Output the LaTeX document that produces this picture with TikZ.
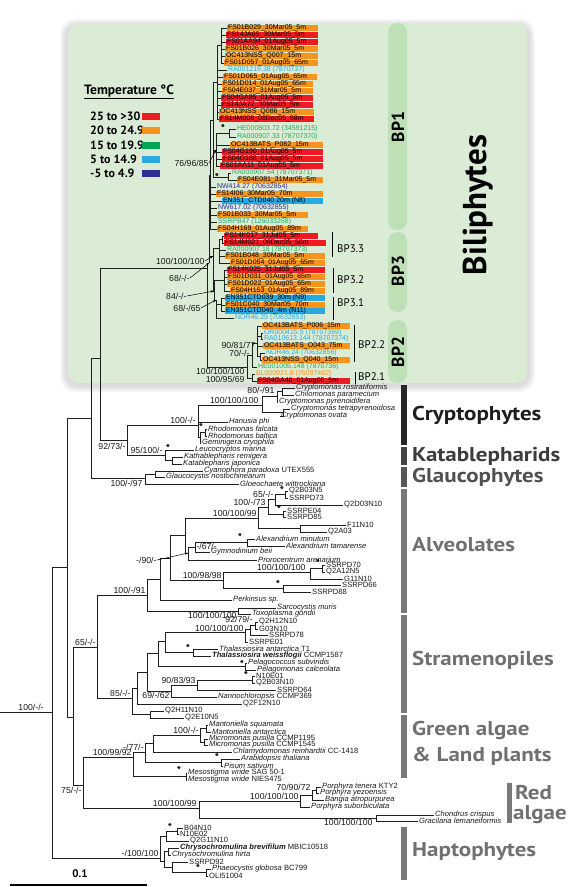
\documentclass[tikz,border=0pt]{standalone}
\usepackage{fontspec}
\setmainfont{PT Sans}
\newfontfamily\lib{Liberation Sans}
\usetikzlibrary{arrows.meta}
\definecolor{cR}{RGB}{237,28,36}
\definecolor{cO}{RGB}{247,148,29}
\definecolor{cG}{RGB}{0,166,81}
\definecolor{cGt}{RGB}{40,170,90}
\definecolor{cLB}{RGB}{39,170,225}
\definecolor{cDB}{RGB}{46,49,146}
\definecolor{bgG}{RGB}{218,236,214}
\definecolor{bandG}{RGB}{190,224,183}
\definecolor{k1}{RGB}{38,38,38}
\definecolor{k2}{RGB}{68,68,68}
\definecolor{k3}{RGB}{88,88,88}
\definecolor{k4}{RGB}{120,120,120}
\definecolor{t1}{RGB}{30,30,30}
\definecolor{t2}{RGB}{60,60,60}
\definecolor{t3}{RGB}{80,80,80}
\definecolor{t4}{RGB}{112,112,112}
\tikzset{
 br/.style={line width=0.8pt, draw=black!88},
 lf/.style={font=\lib\fontsize{7}{8}\selectfont, anchor=west, inner xsep=0.8pt, inner ysep=0.3pt},
 sp/.style={font=\lib\fontsize{7.6}{8}\selectfont, anchor=west, inner xsep=1pt, inner ysep=0.3pt, text=black!90},
 sv/.style={font=\lib\fontsize{8.7}{9}\selectfont, inner sep=0.3pt, text=black!90},
 st/.style={font=\bfseries\fontsize{11}{11}\selectfont, inner sep=0pt},
 ar/.style={line width=0.5pt, -{Stealth[length=3.2pt,width=2.4pt]}},
 clab/.style={font=\bfseries\fontsize{20}{22}\selectfont, anchor=west, inner sep=0pt},
 bpl/.style={font=\bfseries\fontsize{17.5}{17.5}\selectfont, rotate=90, inner sep=0pt},
 bpb/.style={font=\fontsize{11}{11}\selectfont, anchor=west, inner sep=0pt},
 leg/.style={font=\bfseries\fontsize{12}{12}\selectfont, anchor=west, inner sep=0pt},
}
\newcommand\cl[1]{\scalebox{1.15}[1]{#1}}
\newcommand\Bx[6]{\fill[#5] (#3,#2-3.4) rectangle (#4,#2+3.4); \node[lf] (#1) at (#3,#2) {#6};}
\newcommand\Tx[5]{\node[lf,text=#4] (#1) at (#3,#2) {#5};}
\newcommand\Lf[4]{\node[sp] (#1) at (#3,#2) {#4};}
\newcommand\chL[3]{\foreach \i in {#2,...,#3}{\draw[br] (#1) |- (L\i.west);}}
\newcommand\ch[2]{\foreach \cc in {#2}{\draw[br] (#1) |- (\cc);}}
\begin{document}
\begin{tikzpicture}[x=1pt,y=-1pt]
\useasboundingbox (0,0) rectangle (568,887);
% ---------- biliphyte panel ----------
\foreach \i in {1,...,6}{\fill[black,opacity=0.025,rounded corners=14pt] ({66-\i},{25-\i}) rectangle ({529+\i},{386+\i});}
\fill[bgG, rounded corners=12pt] (68,23) rectangle (527,383);
\fill[bandG, rounded corners=9pt] (388,23) rectangle (407,230);
\fill[bandG, rounded corners=9pt] (388,232) rectangle (407,312);
\fill[bandG, rounded corners=9pt] (388,320) rectangle (407,383);
\node[bpl] (bp1) at (398,127) {BP1};
\node[bpl] (bp3) at (398,271) {BP3};
\node[bpl] (bp2) at (398,352) {BP2};
\node[font=\bfseries\fontsize{33}{33}\selectfont, rotate=90, inner sep=0pt] (bili) at (478,205) {Biliphytes};
% legend
\node[font=\bfseries\fontsize{13.5}{13.5}\selectfont, anchor=west, inner sep=0pt] (legT) at (84,92) {\underline{Temperature °C}};
\node[leg] (lg1) at (90,116) {25 to >30}; \fill[cR] (142,112.5) rectangle (160,119.5);
\node[leg] (lg2) at (90,130) {20 to 24.9}; \fill[cO] (142,126.5) rectangle (160,133.5);
\node[leg] (lg3) at (90,145) {15 to 19.9}; \fill[cG] (142,141.5) rectangle (160,148.5);
\node[leg] (lg4) at (90,159) {5 to 14.9}; \fill[cLB] (142,155.5) rectangle (160,162.5);
\node[leg] (lg5) at (90,173) {-5 to 4.9}; \fill[cDB] (142,169.5) rectangle (160,176.5);
% leaves
\Bx{L1}{28}{227}{318}{cO}{FS01B029\_30Mar05\_5m}
\Bx{L2}{35}{226}{318}{cR}{FS14JA65\_30Mar05\_5m}
\Bx{L3}{42}{226}{318}{cR}{FS01AA94\_01Aug05\_5m}
\Bx{L4}{49}{225}{318}{cO}{FS01B026\_30Mar05\_5m}
\Bx{L5}{56}{225}{318}{cO}{OC413NSS\_Q007\_15m}
\Bx{L6}{63}{224}{318}{cO}{FS01D057\_01Aug05\_65m}
\Tx{L7}{70}{227}{cLB}{RA001219.38 (7870737)}
\Bx{L8}{77}{223}{317}{cO}{FS01D065\_01Aug05\_65m}
\Bx{L9}{84}{222}{313}{cO}{FS01D014\_01Aug05\_65m}
\Bx{L10}{91}{222}{313}{cO}{FS04E037\_31Mar05\_5m}
\Bx{L11}{98}{221}{313}{cR}{FS04GA95\_01Aug05\_5m}
\Bx{L12}{105}{221}{313}{cR}{FS14JA72\_30Mar05\_5m}
\Bx{L13}{112}{219}{314}{cO}{OC413NSS\_Q086\_15m}
\Bx{L14}{119}{219}{314}{cR}{FS14M008\_08Dec05\_58m}
\Tx{L15}{129}{236}{cGt}{HE000803.72 (34591215)}
\Tx{L16}{137}{236}{cGt}{RA000907.33 (78707370)}
\Bx{L17}{145}{230}{323}{cO}{OC413BATS\_P082\_15m}
\Bx{L18}{152}{222}{323}{cR}{FS04G190\_01Aug05\_5m}
\Bx{L19}{159}{222}{323}{cR}{FS04G188\_01Aug05\_5m}
\Bx{L20}{166}{220}{323}{cR}{FS01AA11\_01Aug05\_5m}
\Tx{L21}{173}{231}{cGt}{RA000907.54 (78707371)}
\Bx{L22}{180}{237}{323}{cO}{FS04E081\_31Mar05\_5m}
\Tx{L23}{187}{216}{cDB}{NW414.27 (70632854)}
\Bx{L24}{194}{216}{323}{cO}{FS14I06\_30Mar05\_70m}
\Bx{L25}{201}{222}{323}{cLB}{EN351\_CTD040 20m (N8)}
\Tx{L26}{208}{217}{cDB}{NW617.02 (70632855)}
\Bx{L27}{215}{217}{308}{cO}{FS01B033\_30Mar05\_5m}
\Tx{L28}{222}{217}{cGt}{SSRPB47 (126033268)}
\Bx{L29}{229}{217}{308}{cO}{FS04H169\_01Aug05\_89m}
\Bx{L30}{236}{224}{318}{cR}{FS14K017\_31Jul05\_5m}
\Bx{L31}{243}{224}{326}{cR}{FS14M021\_08Dec05\_58m}
\Tx{L32}{250}{226}{cGt}{RA000907.18 (78707373)}
\Bx{L33}{256}{225}{325}{cO}{FS01B048\_30Mar05\_5m}
\Bx{L34}{263}{230}{325}{cO}{FS01D054\_01Aug05\_65m}
\Bx{L35}{270}{227}{325}{cR}{FS14K025\_31Jul05\_5m}
\Bx{L36}{277}{227}{325}{cO}{FS01D031\_01Aug05\_65m}
\Bx{L37}{284}{227}{325}{cO}{FS01D022\_01Aug05\_65m}
\Bx{L38}{291}{230}{325}{cO}{FS04H153\_01Aug05\_89m}
\Bx{L39}{298}{225}{325}{cLB}{EN351CTD039\_30m (N9)}
\Bx{L40}{305}{225}{325}{cO}{FS01C040\_30Mar05\_70m}
\Bx{L41}{311}{225}{325}{cLB}{EN351CTD040\_4m (N11)}
\Tx{L42}{318}{234}{cLB}{NOR46.29 (70632853)}
\Bx{L43}{326}{262}{350}{cO}{OC413BATS\_P006\_15m}
\Tx{L44}{333}{263}{cLB}{OR000415.9 (78707369)}
\Tx{L45}{339}{263}{cLB}{RA010613.144 (78707374)}
\Bx{L46}{346}{263}{350}{cO}{OC413BATS\_O043\_75m}
\Tx{L47}{353}{265}{cLB}{NOR46.24 (70632856)}
\Bx{L48}{360}{262}{350}{cO}{OC413NSS\_Q040\_15m}
\Tx{L49}{367}{257}{cGt}{HE001005.148 (7870736)}
\Tx{L50}{374}{255}{cO}{BL000921.8 (76097482)}
\Bx{L51}{381}{257}{350}{cR}{FS04GA46\_01Aug05\_5m}
% BP subclade brackets
\draw[line width=1pt] (332,232) coordinate (b33a) -- (332,257) coordinate (b33b);
\node[bpb] (t33) at (337,249) {BP3.3};
\draw[line width=1pt] (333,268) coordinate (b32a) -- (333,293) coordinate (b32b);
\node[bpb] (t32) at (337,280) {BP3.2};
\draw[line width=1pt] (333,297) coordinate (b31a) -- (333,320) coordinate (b31b);
\node[bpb] (t31) at (337,303) {BP3.1};
\draw[line width=1pt] (354,325) coordinate (b22a) -- (354,362) coordinate (b22b);
\node[bpb] (t22) at (358,345) {BP2.2};
\draw[line width=1pt] (355,372) coordinate (b21a) -- (355,384) coordinate (b21b);
\node[bpb] (t21) at (358,377) {BP2.1};
% biliphyte internal nodes
\coordinate (nA) at (221,45);
\coordinate (n1) at (217,82);
\coordinate (P15) at (229,133);
\coordinate (n2) at (216,150);
\coordinate (P21) at (228,177);
\coordinate (n3) at (213,120);
\coordinate (n4) at (210,175);
\coordinate (P30) at (222,239);
\coordinate (n33) at (219,248);
\coordinate (n32) at (224,280);
\coordinate (n31) at (221,304);
\coordinate (n3c) at (216,300);
\coordinate (n3b) at (214,291);
\coordinate (nBP3) at (213,256);
\coordinate (nBP13) at (209,263);
\coordinate (p44) at (261,336);
\coordinate (p47) at (260,356);
\coordinate (nBP22) at (257,343);
\coordinate (nBP2x) at (252,355);
\coordinate (p50) at (252,378);
\coordinate (nBP2) at (247,367);
\coordinate (B0) at (207,268);
\chL{nA}{1}{6}
\ch{n1}{nA} \chL{n1}{7}{14}
\chL{P15}{15}{16}
\ch{n2}{P15} \chL{n2}{17}{20}
\chL{P21}{21}{22}
\ch{n3}{n1,n2,P21}
\ch{n4}{n3} \chL{n4}{23}{29}
\chL{P30}{30}{31}
\ch{n33}{P30} \chL{n33}{32}{34}
\chL{n32}{35}{38}
\chL{n31}{39}{41}
\ch{n3c}{n31,L42.west}
\ch{n3b}{n32,n3c}
\ch{nBP3}{n33,n3b}
\ch{nBP13}{n4,nBP3}
\chL{p44}{44}{45}
\chL{p47}{47}{48}
\ch{nBP22}{L43.west,p44,L46.west,p47}
\ch{nBP2x}{nBP22,L49.west}
\chL{p50}{50}{51}
\ch{nBP2}{nBP2x,p50}
\ch{B0}{nBP13,nBP2}
\node[st] (a15) at (223,128) {*};
\node[st] (a21) at (217,177) {*};
\node[sv,anchor=east] (s76) at (209,163) {76/96/85};
\draw[ar] (s76.east) -- (n2);
\node[sv,anchor=east] (s100b) at (205,261) {100/100/100};
\draw[ar] (s100b.east) -- (nBP3);
\node[sv,anchor=east] (s68a) at (190,278) {68/-/-};
\draw[ar] (s68a.east) -- (nBP13);
\node[sv,anchor=east] (s84) at (187,296) {84/-/-};
\draw[ar] (s84.east) -- (n3b);
\node[sv,anchor=east] (s68b) at (201,308) {68/-/65};
\draw[ar] (s68b.east) -- (n3c);
\node[sv,anchor=east] (s90) at (256,345) {90/81/77};
\node[sv,anchor=east] (s70) at (250,353) {70/-/-};
\node[sv,anchor=east] (s100c) at (245,371) {100/100/100};
\node[sv,anchor=east] (s95) at (245,379) {100/95/69};
% ---------- cryptophytes, katablepharids, glaucophytes ----------
\Lf{c1}{388}{295}{\itshape Cryptomonas rostratiformis}
\Lf{c2}{395}{294}{\itshape Chilomonas paramecium}
\Lf{c3}{402}{278}{\itshape Cryptomonas pyrenoidifera}
\Lf{c4}{409}{290}{\itshape Cryptomonas tetrapyrenoidosa}
\Lf{c5}{416}{280}{\itshape Cryptomonas ovata}
\Lf{c6}{422}{228}{\itshape Hanusia phi}
\Lf{c7}{429}{207}{\itshape Rhodomonas falcata}
\Lf{c8}{436}{207}{\itshape Rhodomonas baltica}
\Lf{c9}{443}{201}{\itshape Geminigera cryophila}
\Lf{c10}{450}{194}{\itshape Leucocryptos marina}
\Lf{c11}{457}{183}{\itshape Kathablepharis remigera}
\Lf{c12}{464}{182}{\itshape Katablepharis japonica}
\Lf{c13}{471}{203}{{\itshape Cyanophora paradoxa} UTEX555}
\Lf{c14}{477}{165}{\itshape Glaucocystis nostochinearum}
\Lf{c15}{484}{239}{\itshape Gloeochaete wittrockiana}
\coordinate (k1) at (282,391);
\coordinate (k2) at (277,396);
\coordinate (k3) at (283,412);
\coordinate (k4) at (262,405);
\coordinate (k6r) at (205,432);
\coordinate (k6) at (200,437);
\coordinate (k5) at (198,425);
\coordinate (k8) at (172,460);
\coordinate (k9) at (165,455);
\coordinate (k7) at (127,440);
\coordinate (g1) at (155,474);
\coordinate (g0) at (145,478);
\coordinate (a3) at (100,358);
\coordinate (a2) at (91,418);
\ch{k1}{c1.west,c2.west}
\ch{k2}{k1,c3.west}
\ch{k3}{c4.west,c5.west}
\ch{k4}{k2,k3}
\ch{k6r}{c7.west,c8.west}
\ch{k6}{k6r,c9.west}
\ch{k5}{k4,c6.west,k6}
\ch{k8}{c11.west,c12.west}
\ch{k9}{c10.west,k8}
\ch{k7}{k5,k9}
\ch{g1}{c13.west,c14.west}
\ch{g0}{g1,c15.west}
\ch{a3}{B0,k7}
\ch{a2}{a3,g0}
\node[sv,anchor=south east] (s80) at (275,394.5) {80/-/91};
\node[sv,anchor=south east] (s100d) at (259,404) {100/100/100};
\node[sv,anchor=south east] (s100e) at (196,424) {100/-/-};
\node[sv,anchor=south east] (s95b) at (163,454) {95/100/-};
\node[sv,anchor=north east] (s92) at (126,443) {92/73/-};
\node[sv,anchor=north east] (s100f) at (143,480) {100/-/97};
\node[st] (a7) at (201,427) {*};
\node[st] (a10) at (168,448) {*};
% ---------- alveolates ----------
\Lf{v1}{491}{288}{Q2B03N5}
\Lf{v2}{498}{288}{SSRPD73}
\Lf{v3}{505}{343}{Q2D03N10}
\Lf{v4}{511}{286}{SSRPE04}
\Lf{v5}{517}{286}{SSRPD85}
\Lf{v6}{525}{346}{F11N10}
\Lf{v7}{532}{327}{Q2A03}
\Lf{v8}{539}{255}{\itshape Alexandrium minutum}
\Lf{v9}{546}{285}{\itshape Alexandrium tamarense}
\Lf{v10}{552}{210}{\itshape Gymnodinium beii}
\Lf{v11}{560}{257}{\itshape Prorocentrum arenarium}
\Lf{v12}{565}{325}{SSRPD70}
\Lf{v13}{572}{325}{Q2A12N5}
\Lf{v14}{579}{343}{G11N10}
\Lf{v15}{585}{341}{SSRPD66}
\Lf{v16}{592}{311}{SSRPD88}
\Lf{v17}{600}{232}{\itshape Perkinsus sp.}
\Lf{v18}{608}{276}{\itshape Sarcocystis muris}
\Lf{v19}{614}{251}{\itshape Toxoplasma gondii}
\coordinate (Na) at (285,494);
\coordinate (Nb) at (275,499);
\coordinate (Nc) at (283,514);
\coordinate (Nd) at (268,507);
\coordinate (Nf) at (300,528);
\coordinate (Ne) at (258,518);
\coordinate (Nal) at (247,542);
\coordinate (Ng) at (195,547);
\coordinate (Nh2) at (188,553);
\coordinate (Nh) at (185,535);
\coordinate (Nk2) at (322,568);
\coordinate (Nk) at (310,572);
\coordinate (Nl) at (283,588);
\coordinate (Nj) at (223,580);
\coordinate (Ni) at (170,558);
\coordinate (Nm) at (160,579);
\coordinate (No) at (238,611);
\coordinate (Nn) at (147,595);
\ch{Na}{v1.west,v2.west}
\ch{Nb}{Na,v3.west}
\ch{Nc}{v4.west,v5.west}
\ch{Nd}{Nb,Nc}
\ch{Nf}{v6.west,v7.west}
\ch{Ne}{Nd,Nf}
\ch{Nal}{v8.west,v9.west}
\ch{Ng}{Nal,v10.west}
\ch{Nh2}{Ng,v11.west}
\ch{Nh}{Ne,Nh2}
\ch{Nk2}{v12.west,v13.west}
\ch{Nk}{Nk2,v14.west}
\ch{Nl}{v15.west,v16.west}
\ch{Nj}{Nk,Nl}
\ch{Ni}{Nh,Nj}
\ch{Nm}{Ni,v17.west}
\ch{No}{v18.west,v19.west}
\ch{Nn}{Nm,No}
\node[sv,anchor=south east] (s65a) at (274,498) {65/-/-};
\node[sv,anchor=south east] (s100g) at (266,506) {100/-/73};
\node[sv,anchor=south east] (s100h) at (257,517) {100/100/99};
\node[sv,anchor=north west] (s67) at (196,543) {-/67/-};
\node[sv,anchor=east] (s90b) at (157,560) {-/90/-};
\draw[ar] (s90b.east) -- (Nh2);
\node[sv,anchor=south east] (s100i) at (306,571) {100/100/100};
\node[sv,anchor=south east] (s100j) at (222,579) {100/98/98};
\node[sv,anchor=south east] (s100k) at (146,594) {100/-/91};
\node[sv,anchor=north east] (s100l) at (237,612) {100/100/100};
\node[st] (a1s) at (282,490) {*};
\node[st] (a4s) at (279,509) {*};
\node[st] (a8s) at (240,537) {*};
\node[st] (a12s) at (318,563) {*};
\node[st] (a15s) at (278,584) {*};
% ---------- stramenopiles ----------
\Lf{s1}{622}{258}{Q2H12N10}
\Lf{s2}{629}{258}{G03N10}
\Lf{s3}{635}{268}{SSRPD78}
\Lf{s4}{642}{248}{SSRPE01}
\Lf{s5}{649}{218}{{\itshape Thalassiosira antarctica} T1}
\Lf{s6}{656}{211}{{\bfseries\itshape Thalassiosira weissflogii} CCMP1587}
\Lf{s7}{663}{247}{\itshape Pelagococcus subviridis}
\Lf{s8}{670}{256}{\itshape Pelagomonas calceolata}
\Lf{s9}{676}{255}{N10E01}
\Lf{s10}{683}{255}{Q2B03N10}
\Lf{s11}{690}{276}{SSRPD64}
\Lf{s12}{697}{217}{{\itshape Nannochloropsis} CCMP369}
\Lf{s13}{704}{242}{Q2F12N10}
\Lf{s14}{711}{164}{Q2H11N10}
\Lf{s15}{718}{184}{Q2E10N5}
\coordinate (S1a) at (255,625);
\coordinate (S1) at (250,629);
\coordinate (S2) at (245,632);
\coordinate (S3t) at (193,652);
\coordinate (S3) at (165,641);
\coordinate (S4p) at (245,666);
\coordinate (S4) at (158,653);
\coordinate (S5p) at (252,680);
\coordinate (S5) at (197,685);
\coordinate (S6) at (171,691);
\coordinate (S7) at (147,672);
\coordinate (S8) at (137,688);
\coordinate (S9p) at (150,714);
\coordinate (S85) at (132,698);
\coordinate (sa) at (97,647);
\ch{S1a}{s1.west,s2.west}
\ch{S1}{S1a,s3.west}
\ch{S2}{S1,s4.west}
\ch{S3t}{s5.west,s6.west}
\ch{S3}{S2,S3t}
\ch{S4p}{s7.west,s8.west}
\ch{S4}{S3,S4p}
\ch{S5p}{s9.west,s10.west}
\ch{S5}{S5p,s11.west}
\ch{S6}{S5,s12.west}
\ch{S7}{S4,S6}
\ch{S8}{S7,s13.west}
\ch{S9p}{s14.west,s15.west}
\ch{S85}{S8,S9p}
\ch{sa}{Nn,S85}
\node[sv,anchor=south east] (s92b) at (253,623) {92/79/-};
\node[sv,anchor=south east] (s100m) at (244,632) {100/100/100};
\node[sv,anchor=south east] (s90c) at (196,684) {90/83/93};
\node[sv,anchor=north east] (s69) at (170,692) {69/-/62};
\node[sv,anchor=south east] (s85) at (131,697) {85/-/-};
\node[sv,anchor=south east] (s65b) at (96,646) {65/-/-};
\node[st] (a5s) at (188,648) {*};
\node[st] (a7s) at (242,664) {*};
\node[st] (a9s) at (246,675) {*};
% ---------- green algae & land plants ----------
\Lf{e1}{725}{208}{\itshape Mantoniella squamata}
\Lf{e2}{732}{211}{\itshape Mantoniella antarctica}
\Lf{e3}{739}{208}{\itshape Micromonas pusilla \upshape CCMP1195}
\Lf{e4}{745}{208}{\itshape Micromonas pusilla \upshape CCMP1545}
\Lf{e5}{752}{232}{{\itshape Chlamydomonas reinhardtii} CC-1418}
\Lf{e6}{759}{240}{\itshape Arabidopsis thaliana}
\Lf{e7}{766}{223}{\itshape Pisum sativum}
\Lf{e8}{773}{187}{{\itshape Mesostigma viride} SAG 50-1}
\Lf{e9}{780}{187}{{\itshape Mesostigma viride} NIES475}
\coordinate (G1a) at (206,728);
\coordinate (G1b) at (204,742);
\coordinate (G1) at (200,735);
\coordinate (G2) at (153,743);
\coordinate (G3p) at (221,762);
\coordinate (G3) at (145,752);
\coordinate (G4m) at (186,776);
\coordinate (G4) at (133,757);
\ch{G1a}{e1.west,e2.west}
\ch{G1b}{e3.west,e4.west}
\ch{G1}{G1a,G1b}
\ch{G2}{G1,e5.west}
\ch{G3p}{e6.west,e7.west}
\ch{G3}{G2,G3p}
\ch{G4m}{e8.west,e9.west}
\ch{G4}{G3,G4m}
\node[sv,anchor=south east] (s100n) at (199,734) {100/-/-};
\node[sv,anchor=south east] (s77) at (144,751) {-/77/-};
\node[sv,anchor=south east] (s100o) at (132,756) {100/99/92};
\node[st] (a6e) at (217,757) {*};
\node[st] (a8e) at (179,770) {*};
% ---------- red algae ----------
\Lf{r1}{787}{321}{{\itshape Porphyra tenera} KTY2}
\Lf{r2}{793}{319}{\itshape Porphyra yezoensis}
\Lf{r3}{800}{324}{\itshape Bangia atropurpurea}
\Lf{r4}{807}{310}{\itshape Porphyra suborbiculata}
\Lf{r5}{815}{434}{\itshape Chondrus crispus}
\Lf{r6}{821}{418}{\itshape Gracilaria lemaneiformis}
\coordinate (R1a) at (316,790);
\coordinate (R1) at (312,795);
\coordinate (R2) at (300,801);
\coordinate (R3) at (376,818);
\coordinate (R0) at (199,808);
\ch{R1a}{r1.west,r2.west}
\ch{R1}{R1a,r3.west}
\ch{R2}{R1,r4.west}
\ch{R3}{r5.west,r6.west}
\ch{R0}{R2,R3}
\node[sv,anchor=south east] (s70b) at (311,791.5) {70/90/72};
\node[sv,anchor=south east] (s100p) at (299,800.5) {100/100/100};
\node[sv,anchor=south east] (s100q) at (197,807) {100/100/99};
\node[sv,anchor=north east] (s100r) at (373,819) {100/100/100};
\coordinate (sg) at (83,785);
\coordinate (s0) at (73,717);
\coordinate (a1) at (67,567);
\ch{sg}{G4,R0}
\ch{s0}{sa,sg}
\ch{a1}{a2,s0}
\node[sv,anchor=north east] (s75) at (82,787) {75/-/-};
% ---------- haptophytes ----------
\Lf{h1}{828}{183}{B04N10}
\Lf{h2}{834}{179}{N10E02}
\Lf{h3}{841}{189}{Q2G11N10}
\Lf{h4}{848}{179}{{\bfseries\itshape Chrysochromulina brevifilum} MBIC10518}
\Lf{h5}{855}{171}{\itshape Chrysochromulina hirta}
\Lf{h6}{862}{188}{SSRPD92}
\Lf{h7}{869}{211}{{\itshape Phaeocystis globosa} BC799}
\Lf{h8}{876}{208}{OLI51004}
\coordinate (H1p) at (177,831);
\coordinate (H1) at (166,836);
\coordinate (H3) at (168,851);
\coordinate (H7) at (206,872);
\coordinate (H5) at (172,867);
\coordinate (H4) at (164,861);
\coordinate (H0) at (160,858);
\ch{H1p}{h1.west,h2.west}
\ch{H1}{H1p,h3.west}
\ch{H3}{h4.west,h5.west}
\ch{H7}{h7.west,h8.west}
\ch{H5}{h6.west,H7}
\ch{H4}{H3,H5}
\ch{H0}{H1,H4}
\node[sv,anchor=south east] (s100s) at (159,857) {-/100/100};
\node[st] (a1h) at (170,827) {*};
\node[st] (a7h) at (198,868) {*};
% root
\coordinate (root) at (52,712);
\coordinate (rootL) at (0,712);
\ch{root}{a1,H0}
\draw[br] (rootL) -- (root);
\node[sv,anchor=south] (s100t) at (31,711) {100/-/-};
% ---------- clade bars ----------
\fill[k1] (401,385) rectangle (407,445);
\node[clab,text=t1] (cry) at (412,415) {\cl{Cryptophytes}};
\fill[k2] (401,447) rectangle (407,465);
\node[clab,text=t2] (kat) at (412,456) {\cl{Katablepharids}};
\fill[k3] (401,467) rectangle (407,487);
\node[clab,text=t3] (gla) at (412,477) {\cl{Glaucophytes}};
\fill[k4] (401,489) rectangle (407,613);
\node[clab,text=t4] (alv) at (412,545) {\cl{Alveolates}};
\fill[k4] (401,615) rectangle (407,713);
\node[clab,text=t4] (stra) at (412,660) {\cl{Stramenopiles}};
\fill[k4] (401,715) rectangle (407,778);
\node[clab,text=t4] (gre) at (412,730) {\cl{Green algae}};
\node[clab,text=t4] (lan) at (412,756) {\cl{\& Land plants}};
\fill[k4] (507,783) rectangle (512,823);
\node[clab,text=t4] (red) at (515,793) {\cl{Red}};
\node[clab,text=t4] (alg) at (513,815) {\cl{algae}};
\fill[k4] (401,827) rectangle (407,880);
\node[clab,text=t4] (hap) at (412,852) {\cl{Haptophytes}};
% scale bar
\coordinate (sb1) at (10,885);
\coordinate (sb2) at (147,885);
\draw[line width=2pt] (sb1) -- (sb2);
\node[font=\bfseries\fontsize{11}{11}\selectfont, inner sep=0pt] (sbl) at (80,874) {0.1};
\end{tikzpicture}
\end{document}
